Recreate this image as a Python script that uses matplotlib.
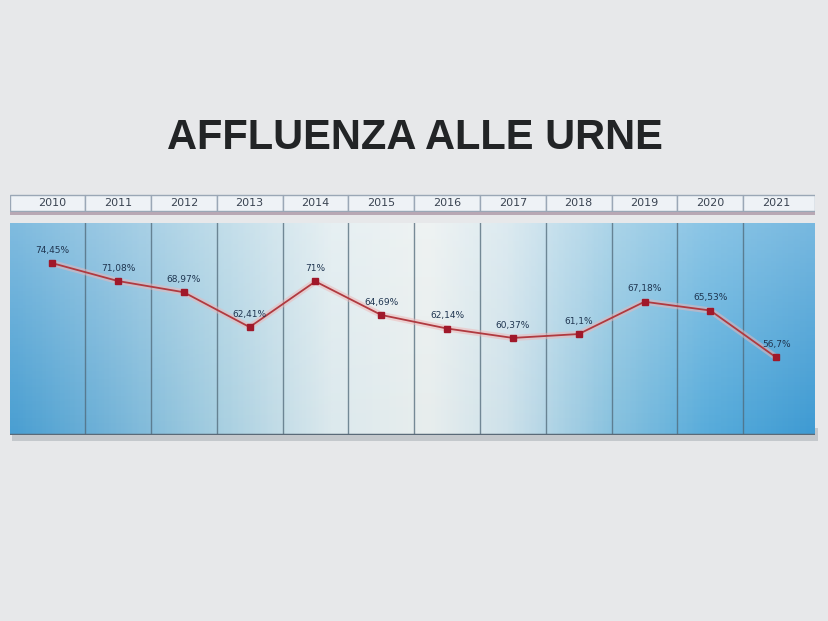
import numpy as np
import matplotlib.pyplot as plt
from matplotlib.colors import LinearSegmentedColormap
from matplotlib.patches import Rectangle

# Affluenza alle urne, 2010-2021
years = ["2010", "2011", "2012", "2013", "2014", "2015",
         "2016", "2017", "2018", "2019", "2020", "2021"]
turnout = [74.45, 71.08, 68.97, 62.41, 71.0, 64.69,
           62.14, 60.37, 61.1, 67.18, 65.53, 56.7]
labels = ["74,45%", "71,08%", "68,97%", "62,41%", "71%", "64,69%",
          "62,14%", "60,37%", "61,1%", "67,18%", "65,53%", "56,7%"]

W, H = 829, 621
fig = plt.figure(figsize=(W / 100, H / 100), dpi=100)
fig.patch.set_facecolor("#e7e8ea")

x = np.arange(len(years))
xlim = (-0.64, len(years) - 1 + 0.59)


def fax(l, t, r, b):
    # axes from pixel box (left, top, right, bottom)
    return fig.add_axes([l / W, 1 - b / H, (r - l) / W, (b - t) / H])


fig.text(415 / W, 1 - 138 / H, "AFFLUENZA ALLE URNE", ha="center", va="center",
         fontsize=30, fontweight="bold", color="#222426", family="Liberation Sans")

# shadow under the panel
sh = fax(12, 428, 818, 441)
sh.axis("off")
sh.add_patch(Rectangle((0, 0), 1, 1, transform=sh.transAxes, color="#c4c8cc"))

# main panel with blue-white-blue gradient
ax = fax(10, 223, 815, 435)
ax.set_xlim(*xlim)
ax.set_ylim(42.1, 82.0)
cmap = LinearSegmentedColormap.from_list("bg", [
    (0.00, "#4a9fd2"), (0.12, "#72b3d8"), (0.25, "#a3cde0"),
    (0.40, "#dce9ed"), (0.52, "#e8eeee"), (0.62, "#cde1ea"),
    (0.75, "#88c2df"), (0.87, "#58acdb"), (1.00, "#3f9bd3")])
grad = np.linspace(0, 1, 400)[None, :]
ax.imshow(grad, cmap=cmap, aspect="auto", extent=(*xlim, 42.1, 82.0), zorder=0)
# soft haze at the top
haze = np.linspace(0.3, 0, 200)[:, None] * np.ones((1, 10))
ax.imshow(np.ones((200, 10, 4)) * [1, 1, 1, 0] + np.dstack([np.zeros((200, 10, 3)), haze]),
          aspect="auto", extent=(*xlim, 42.1, 82.0), zorder=1)
for b in x[:-1] + 0.5:
    ax.axvline(b, color="#4f6878", lw=1.0, alpha=0.75, zorder=2)
ax.axhline(42.1, color="#5a6a78", lw=2.5, zorder=2)
for s in ax.spines.values():
    s.set_visible(False)
ax.set_xticks([])
ax.set_yticks([])

ax.plot(x, turnout, color="#f0b4b4", lw=4.5, alpha=0.5, zorder=3,
        solid_capstyle="round")
ax.plot(x, turnout, color="#b03a40", lw=1.3, zorder=4, marker="s",
        markersize=4.5, markerfacecolor="#a0182a", markeredgecolor="#a0182a")
for xi, v, lab in zip(x, turnout, labels):
    ax.annotate(lab, (xi, v), xytext=(0, 6), textcoords="offset points",
                ha="center", va="bottom", fontsize=6.5, color="#1f3550", zorder=5)

# year header band
hd = fax(10, 193, 815, 213)
hd.set_xlim(*xlim)
hd.set_ylim(0, 1)
hd.axis("off")
edges = [xlim[0]] + list(x[:-1] + 0.5) + [xlim[1]]
for i, yr in enumerate(years):
    l, r = edges[i], edges[i + 1]
    hd.add_patch(Rectangle((l, 0.08), r - l, 0.84, facecolor="#eef2f6",
                           edgecolor="#9aa7b6", lw=1.0))
    hd.text(i, 0.5, yr, ha="center", va="center", fontsize=8, color="#3a4452")
hd.add_patch(Rectangle((xlim[0], -0.08), xlim[1] - xlim[0], 0.12,
                       facecolor="#b8a8b4", edgecolor="none", clip_on=False))

fig.savefig("out.png", dpi=100, facecolor=fig.get_facecolor())
